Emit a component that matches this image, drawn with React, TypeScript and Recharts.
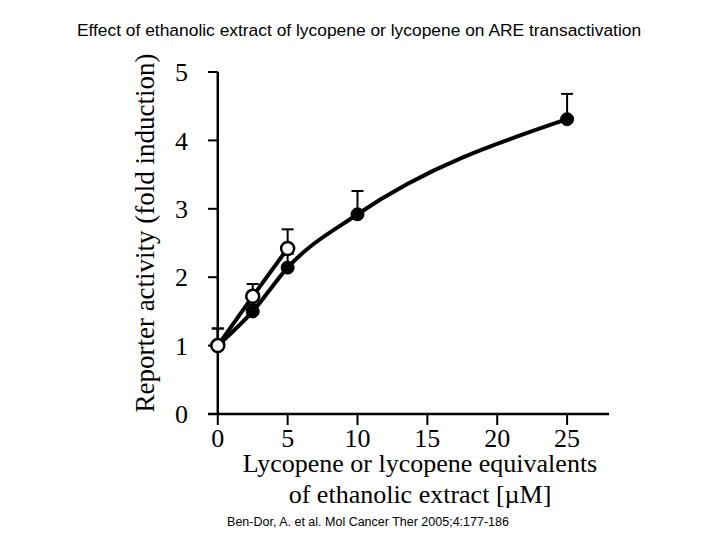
import React from 'react';
import {
  LineChart,
  Line,
  XAxis,
  YAxis,
  ErrorBar,
  ReferenceLine,
} from 'recharts';

// concentrations (uM)
const extractDoses = [0, 2.5, 5, 10, 25];
const extractMeans = [1.0, 1.5, 2.14, 2.92, 4.31];
const extractErrors = [0.25, 0.1, 0.2, 0.34, 0.37];

const lycopeneDoses = [0, 2.5, 5];
const lycopeneMeans = [1.0, 1.72, 2.42];
const lycopeneErrors = [0.25, 0.18, 0.28];

const xTicks = [0, 5, 10, 15, 20, 25];
const yTicks = [0, 1, 2, 3, 4, 5];

const title = 'Effect of ethanolic extract of lycopene or lycopene on ARE transactivation';
const yLabel = 'Reporter activity (fold induction)';
const xLabel1 = 'Lycopene or lycopene equivalents';
const xLabel2 = 'of ethanolic extract [\u00b5M]';
const source = 'Ben-Dor, A. et al. Mol Cancer Ther 2005;4:177-186';

const extractData = extractDoses.map((x, i) => ({
  x,
  y: extractMeans[i],
  err: [0, extractErrors[i]],
}));

const lycopeneData = lycopeneDoses.map((x, i) => ({
  x,
  y: lycopeneMeans[i],
  err: [0, lycopeneErrors[i]],
}));

const serif = '"Liberation Serif", "DejaVu Serif", serif';
const sans = '"Liberation Sans", Arial, sans-serif';

export default function App() {
  return (
    <div style={{ position: 'absolute', left: 0, top: 0, width: 720, height: 540, background: '#fff' }}>
      <div
        style={{
          position: 'absolute', left: 0, top: 20, width: 718, textAlign: 'center',
          fontFamily: sans, fontSize: 17.4, lineHeight: '20px', color: '#000', whiteSpace: 'nowrap',
        }}
      >
        {title}
      </div>

      <LineChart
        width={720}
        height={540}
        margin={{ top: 72, right: 111, bottom: 86, left: 148 }}
        style={{ position: 'absolute', left: 0, top: 0 }}
      >
        <XAxis
          dataKey="x"
          type="number"
          domain={[-0.7, 28]}
          ticks={xTicks}
          allowDataOverflow
          height={40}
          axisLine={{ stroke: '#000', strokeWidth: 2.5 }}
          tickLine={{ stroke: '#000', strokeWidth: 2 }}
          tickSize={11}
          tickMargin={4}
          tick={{ fill: '#000', fontSize: 26, fontFamily: serif }}
        />
        <YAxis
          type="number"
          domain={[0, 5]}
          ticks={yTicks}
          width={60}
          axisLine={false}
          tickLine={false}
          tickSize={0}
          tickMargin={20}
          tick={{ fill: '#000', fontSize: 26, fontFamily: serif }}
        />
        <ReferenceLine x={0} stroke="#000" strokeWidth={2.5} />
        {yTicks.map((v) => (
          <ReferenceLine
            key={v}
            segment={[{ x: -0.7, y: v }, { x: 0, y: v }]}
            stroke="#000"
            strokeWidth={2}
          />
        ))}
        <Line
          data={extractData}
          dataKey="y"
          type="monotone"
          stroke="#000"
          strokeWidth={4}
          dot={{ r: 6.5, fill: '#000', stroke: '#000', strokeWidth: 1 }}
          isAnimationActive={false}
        >
          <ErrorBar dataKey="err" direction="y" width={6} stroke="#000" strokeWidth={2} />
        </Line>
        <Line
          data={lycopeneData}
          dataKey="y"
          type="linear"
          stroke="#000"
          strokeWidth={4}
          dot={{ r: 6.5, fill: '#fff', stroke: '#000', strokeWidth: 2.5 }}
          isAnimationActive={false}
        >
          <ErrorBar dataKey="err" direction="y" width={6} stroke="#000" strokeWidth={2} />
        </Line>
      </LineChart>

      <div
        style={{
          position: 'absolute', left: 145, top: 233, width: 400, marginLeft: -200, marginTop: -16,
          transform: 'rotate(-90deg)', textAlign: 'center',
          fontFamily: serif, fontSize: 27, lineHeight: '32px', color: '#000', whiteSpace: 'nowrap',
        }}
      >
        {yLabel}
      </div>
      <div
        style={{
          position: 'absolute', left: 220, top: 455, width: 400, textAlign: 'center',
          fontFamily: serif, fontSize: 26, lineHeight: '18px', color: '#000', whiteSpace: 'nowrap',
        }}
      >
        <div>{xLabel1}</div>
        <div style={{ marginTop: 13 }}>{xLabel2}</div>
      </div>

      <div
        style={{
          position: 'absolute', left: 0, top: 515, width: 736, textAlign: 'center',
          fontFamily: sans, fontSize: 12.5, lineHeight: '15px', color: '#000', whiteSpace: 'nowrap',
        }}
      >
        {source}
      </div>
    </div>
  );
}
